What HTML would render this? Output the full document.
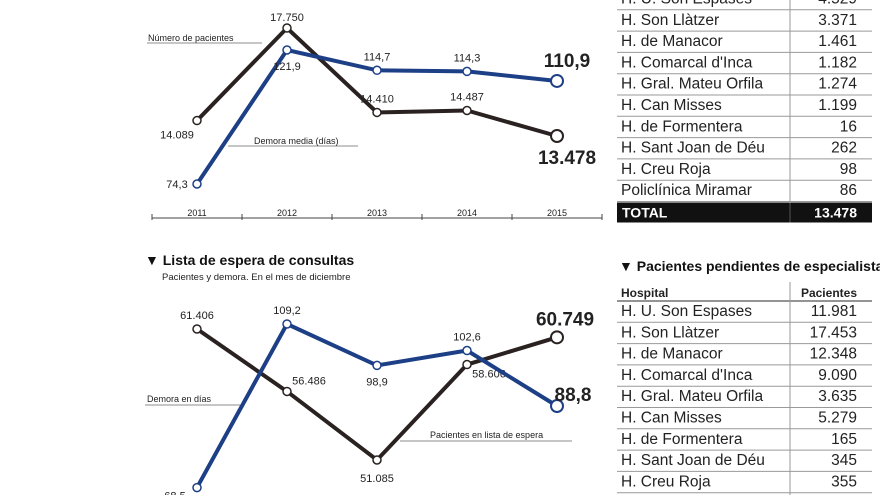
<!DOCTYPE html>
<html><head><meta charset="utf-8">
<style>
html,body{margin:0;padding:0;background:#fff;}
body{width:880px;height:495px;overflow:hidden;position:relative;font-family:"Liberation Sans Narrow","Liberation Sans",sans-serif;}
svg{position:absolute;left:0;top:0;}
</style></head>
<body>
<svg id="svg" width="880" height="495" viewBox="0 0 880 495">
  <g id="c1"></g>
  <g id="c2"></g>
  <g id="tables"></g>
</svg>
<script>
const years = ["2011","2012","2013","2014","2015"];
const c1Patients = [14089, 17750, 14410, 14487, 13478];
const c1PatientsLabels = ["14.089","17.750","14.410","14.487","13.478"];
const c1Delay = [74.3, 121.9, 114.7, 114.3, 110.9];
const c1DelayLabels = ["74,3","121,9","114,7","114,3","110,9"];
const c2Patients = [61406, 56486, 51085, 58606, 60749];
const c2PatientsLabels = ["61.406","56.486","51.085","58.606","60.749"];
const c2Delay = [68.5, 109.2, 98.9, 102.6, 88.8];
const c2DelayLabels = ["68,5","109,2","98,9","102,6","88,8"];
const table1Hospitals = ["H. U. Son Espases","H. Son Llàtzer","H. de Manacor","H. Comarcal d'Inca","H. Gral. Mateu Orfila","H. Can Misses","H. de Formentera","H. Sant Joan de Déu","H. Creu Roja","Policlínica Miramar"];
const table1Values = ["4.529","3.371","1.461","1.182","1.274","1.199","16","262","98","86"];
const table2Hospitals = ["H. U. Son Espases","H. Son Llàtzer","H. de Manacor","H. Comarcal d'Inca","H. Gral. Mateu Orfila","H. Can Misses","H. de Formentera","H. Sant Joan de Déu","H. Creu Roja"];
const table2Values = ["11.981","17.453","12.348","9.090","3.635","5.279","165","345","355"];

const NS="http://www.w3.org/2000/svg";
function mk(parent,tag,attrs,text){const e=document.createElementNS(NS,tag);for(const k in attrs)e.setAttribute(k,attrs[k]);if(text!==undefined)e.textContent=text;parent.appendChild(e);return e;}
function xPos(i){return 197+i*90;}
function lin(d0,d1,r0,r1){return v=>r0+(v-d0)*(r1-r0)/(d1-d0);}

const BLACK="#2a2220", BLUE="#1d3f86";

function drawSeries(g,vals,labels,sc,color,name,labelOff){
  const pts=vals.map((v,i)=>xPos(i)+","+sc(v)).join(" ");
  const l=mk(g,"polyline",{points:pts,fill:"none",stroke:color,"stroke-width":4,"stroke-linejoin":"miter"});
  
  
  vals.forEach((v,i)=>{
    const last=i===vals.length-1;
    const c=mk(g,"circle",{cx:xPos(i),cy:sc(v),r:last?6:4,fill:"#fff",stroke:color,"stroke-width":last?2:1.5});
    
    
    const o=labelOff[i];
    const t=mk(g,"text",{x:xPos(i)+o[0],y:sc(v)+o[1],"text-anchor":"middle","font-size":last?19:11,"font-weight":last?"bold":"normal",fill:"#222","font-family":"Liberation Sans, sans-serif"},labels[i]);
    
    
  });
}

// Chart 1
const g1=document.getElementById("c1");
const s1p=lin(17750,13478,28,136);
const s1d=lin(121.9,74.3,50,184);
let ax=mk(g1,"line",{x1:152,y1:218,x2:602,y2:218,stroke:"#444","stroke-width":1});

for(let i=0;i<=5;i++){mk(g1,"line",{x1:152+i*90,y1:214,x2:152+i*90,y2:220,stroke:"#444","stroke-width":1});}
years.forEach((y,i)=>{const t=mk(g1,"text",{x:xPos(i),y:216,"text-anchor":"middle","font-size":9,fill:"#222"},y);
  });
mk(g1,"line",{x1:147,y1:43,x2:262,y2:43,stroke:"#666","stroke-width":0.8});
let lt=mk(g1,"text",{x:148,y:41,"font-size":9,fill:"#222"},"Número de pacientes");

mk(g1,"line",{x1:228,y1:146,x2:358,y2:146,stroke:"#666","stroke-width":0.8});
lt=mk(g1,"text",{x:254,y:144,"font-size":9,fill:"#222"},"Demora media (días)");

drawSeries(g1,c1Patients,c1PatientsLabels,s1p,BLACK,"c1-pacientes",[[-20,18],[0,-7],[0,-10],[0,-10],[10,28]]);
drawSeries(g1,c1Delay,c1DelayLabels,s1d,BLUE,"c1-demora",[[-20,4],[0,20],[0,-10],[0,-10],[10,-14]]);

// Chart 2
const g2=document.getElementById("c2");
let tt=mk(g2,"text",{x:145,y:265,"font-size":14,"font-weight":"bold",fill:"#111","font-family":"Liberation Sans, sans-serif"},"▼ Lista de espera de consultas");

tt=mk(g2,"text",{x:162,y:280,"font-size":9.5,fill:"#222"},"Pacientes y demora. En el mes de diciembre");

const s2p=lin(61406,51085,329,460);
const s2d=lin(109.2,88.8,324,406);
mk(g2,"line",{x1:145,y1:405,x2:240,y2:405,stroke:"#666","stroke-width":0.8});
lt=mk(g2,"text",{x:147,y:402,"font-size":9,fill:"#222"},"Demora en días");

mk(g2,"line",{x1:400,y1:441,x2:572,y2:441,stroke:"#666","stroke-width":0.8});
lt=mk(g2,"text",{x:430,y:438,"font-size":9,fill:"#222"},"Pacientes en lista de espera");

drawSeries(g2,c2Patients,c2PatientsLabels,s2p,BLACK,"c2-pacientes",[[0,-10],[22,-7],[0,22],[22,13],[8,-12]]);
drawSeries(g2,c2Delay,c2DelayLabels,s2d,BLUE,"c2-demora",[[-22,12],[0,-10],[0,20],[0,-10],[16,-5]]);

// Tables
const gt=document.getElementById("tables");
const TX=617, TW=255, TD=790, RH=21.3;
function row(parent,y,name,val,i,prefix){
  const r=mk(parent,"g",{});
  
  mk(r,"text",{x:TX+4,y:y+15,"font-size":15.5,fill:"#222"},name);
  mk(r,"text",{x:TX+TW-15,y:y+15,"font-size":15.5,fill:"#222","text-anchor":"end"},val);
  mk(r,"line",{x1:TX,y1:y+RH,x2:TX+TW,y2:y+RH,stroke:"#999","stroke-width":1});
}
const t1=mk(gt,"g",{});
const t1y0=-11.5;
table1Hospitals.forEach((h,i)=>row(t1,t1y0+i*RH,h,table1Values[i],i,'t1'));
mk(t1,"line",{x1:TD,y1:0,x2:TD,y2:t1y0+10*RH,stroke:"#999","stroke-width":1});
const ty=t1y0+10*RH+1;
mk(t1,"rect",{x:TX,y:ty,width:TW,height:20,fill:"#111"});
let tot=mk(t1,"text",{x:TX+5,y:ty+15,"font-size":14,"font-weight":"bold",fill:"#fff","font-family":"Liberation Sans, sans-serif"},"TOTAL");

tot=mk(t1,"text",{x:TX+TW-15,y:ty+15,"font-size":14,"font-weight":"bold",fill:"#fff","text-anchor":"end","font-family":"Liberation Sans, sans-serif"},"13.478");

mk(t1,"line",{x1:TD,y1:ty,x2:TD,y2:ty+20,stroke:"#555","stroke-width":1});

const t2=mk(gt,"g",{});
tt=mk(t2,"text",{x:619,y:271,"font-size":14,"font-weight":"bold",fill:"#111","font-family":"Liberation Sans, sans-serif"},"▼ Pacientes pendientes de especialista");

mk(t2,"text",{x:TX+4,y:297,"font-size":12,"font-weight":"bold",fill:"#222"},"Hospital");
mk(t2,"text",{x:TX+TW-15,y:297,"font-size":12,"font-weight":"bold",fill:"#222","text-anchor":"end"},"Pacientes");
mk(t2,"line",{x1:TX,y1:301,x2:TX+TW,y2:301,stroke:"#555","stroke-width":1.2});
mk(t2,"line",{x1:TD,y1:282,x2:TD,y2:495,stroke:"#999","stroke-width":1});
table2Hospitals.forEach((h,i)=>row(t2,301+i*RH,h,table2Values[i],i,'t2'));
</script>
</body></html>
